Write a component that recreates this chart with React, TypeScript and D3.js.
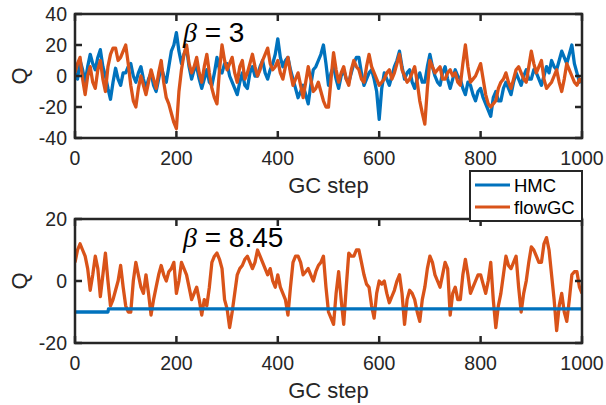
import React from 'react';
import * as d3 from 'd3';

// GC step of each sample (every 5 steps)
const steps = d3.range(0, 1001, 5);

// beta = 3 panel
const hmcTop = [
  2, -2, 10, 4, -4, 6, 14, 8, 4, 12,
  17, 6, 0, -8, -15, -4, 5, -2, -6, 2,
  2, 6, 8, 0, -4, 2, 6, -2, -8, -2,
  2, -6, -10, -2, 6, 0, -4, 6, 16, 20,
  28, 16, 8, 14, 18, 6, -2, 4, 6, -2,
  -8, -2, 4, -4, -6, 2, 12, 4, 2, 8,
  8, 0, -4, -8, -12, -4, 2, -6, -8, 2,
  6, 0, 0, 6, 10, 2, -2, 4, 8, 14,
  24, 12, 6, 10, 12, 4, -2, -8, -14, -10,
  -6, -12, -18, -6, 4, 6, 10, 14, 20, 8,
  -6, 2, 6, -2, -8, 0, 4, -2, -4, 2,
  8, 12, 12, 2, -6, -2, 2, 4, -2, -10,
  -28, -8, 2, -2, -6, 0, 6, 10, 16, 6,
  -2, 2, 4, -4, -8, -2, 2, -4, -4, 6,
  14, 6, 0, -4, -6, 2, 6, -2, -8, -2,
  4, 0, -2, -8, -12, -4, -6, -12, -16, -10,
  -8, -14, -18, -22, -26, -14, -10, -16, -16, -8,
  -4, -8, -12, -4, 2, -2, -6, 0, 4, -2,
  -2, 4, 2, -2, -6, 0, 6, 2, 10, 6,
  4, 10, 16, 12, 8, 14, 20, 8, 2, -4,
  -2,
];
const flowTop = [
  2, 8, 12, -2, -12, 0, 6, -4, -8, 4,
  10, -2, -10, 6, 14, 18, 18, 10, 12, 16,
  20, 8, -6, -16, -20, -8, 0, -6, -12, -4,
  4, -2, -8, 2, 10, -4, -14, -18, -24, -30,
  -34, -10, 4, 14, 20, 8, 2, 6, 12, 2,
  -4, 6, 14, 2, -8, -14, -18, 4, 20, 10,
  4, 8, 12, 2, -4, 6, 10, -2, 2, 8,
  14, 6, 0, 4, 10, 14, 18, 8, 4, 6,
  10, 2, -2, 6, 12, 2, -6, -2, 2, -6,
  -14, -4, 6, -2, -10, -8, -4, -10, -16, -20,
  -20, -2, 15, 4, -4, 2, 6, -2, -6, 4,
  10, 6, 4, -2, -4, 6, 14, 6, 2, -2,
  -6, -4, -2, 2, 4, -2, 2, 8, 14, 4,
  0, -4, -2, 2, 6, -4, -16, -24, -31, -8,
  10, 6, 2, 4, 6, -2, -2, 2, 4, 0,
  2, -4, -6, 8, 20, 6, -4, -2, 0, 4,
  8, -2, -12, -18, -20, -18, -16, -8, -4, -2,
  2, -4, -8, -2, 4, 6, 2, -2, -4, 6,
  16, 8, 2, 6, 10, -2, -8, -6, -4, 0,
  4, -4, -10, -2, 8, 4, 0, -4, -6, -2,
  -4,
];

// beta = 8.45 panel
const hmcBotSteps = [0, 65, 66, 1000];
const hmcBot = [-10, -10, -9, -9];
const flowBot = [
  6, 10, 12, 10, 8, 4, -3, 2, 8, 4,
  -5, 2, 9, 0, -8, -6, -3, 0, 5, -2,
  -8, -10, -10, 0, 6, 2, -2, -4, 2, -4,
  -11, -6, -2, 2, 5, 2, 0, 3, 4, 6,
  -4, 0, 6, 4, 2, -2, -6, -4, -2, -6,
  -11, -6, -8, -2, 6, 8, 9, 7, 4, -6,
  -9, -15, -10, -4, 2, 4, 5, 7, 8, 6,
  4, 6, 10, 8, 6, 4, 2, 4, 0, -2,
  2, -2, -4, -6, -11, -2, 6, 8, 8, 6,
  2, 3, 4, 2, 0, 3, 5, 6, 8, -2,
  -10, -12, -14, -4, 3, -6, -14, -2, 9, 8,
  8, 10, 10, 6, 2, -1, -2, -8, -12, -4,
  0, -1, 0, -4, -7, -5, -3, 0, 2, -4,
  -14, -6, -3, -4, -6, -10, -13, -6, -2, 4,
  8, 6, 2, 0, -2, 2, 6, 4, -11, -4,
  -2, -6, -6, 2, 7, 2, -4, -2, 0, 2,
  2, -1, -4, 0, 6, -6, -15, -8, -4, 2,
  8, 5, 4, 6, 8, -2, -10, -4, 0, 6,
  11, 10, 8, 6, 6, 12, 14, 10, 2, -6,
  -16, -8, -4, -10, -13, -6, 2, 3, 3, -2,
  -4,
];

const xTicks = [0, 200, 400, 600, 800, 1000];
const yTicksTop = [-40, -20, 0, 20, 40];
const yTicksBot = [-20, 0, 20];

const BLUE = '#0072BD';
const ORANGE = '#D95319';
const AX = '#262626';
const FONT = '"Liberation Sans", Arial, sans-serif';

type Series = { xs: number[]; ys: number[]; color: string };

const Panel = ({ id, top, bottom, yDomain, yTicks, series, title }: {
  id: string; top: number; bottom: number; yDomain: [number, number];
  yTicks: number[]; series: Series[]; title: string;
}) => {
  const x = d3.scaleLinear().domain([0, 1000]).range([75, 582]);
  const y = d3.scaleLinear().domain(yDomain).range([bottom, top]);
  const line = d3.line<[number, number]>().x(d => x(d[0])).y(d => y(d[1]));
  const [x0, x1] = x.range();
  const tick = 7;
  return (
    <g>
      <clipPath id={id}>
        <rect x={x0} y={top} width={x1 - x0} height={bottom - top} />
      </clipPath>
      <g clipPath={`url(#${id})`}>
        {series.map((s, i) => (
          <path key={i} d={line(s.xs.map((v, j) => [v, s.ys[j]] as [number, number])) || ''}
            fill="none" stroke={s.color} strokeWidth={3.3} strokeLinejoin="round" />
        ))}
      </g>
      <text x={x(213)} y={top + 28} fontFamily={FONT} fontSize={28} fill="#000">
        <tspan fontFamily='"Liberation Serif", serif' fontStyle="italic">β</tspan>
        {' = ' + title}
      </text>
      {xTicks.map(t => (
        <g key={'x' + t}>
          <line x1={x(t)} x2={x(t)} y1={bottom} y2={bottom - tick} stroke={AX} strokeWidth={2.5} />
          <line x1={x(t)} x2={x(t)} y1={top} y2={top + tick} stroke={AX} strokeWidth={2.5} />
          <text x={x(t)} y={bottom + 27} textAnchor="middle" fontFamily={FONT} fontSize={19.5} fill={AX}>{t}</text>
        </g>
      ))}
      {yTicks.map(t => (
        <g key={'y' + t}>
          <line x1={x0} x2={x0 + tick} y1={y(t)} y2={y(t)} stroke={AX} strokeWidth={2.5} />
          <line x1={x1} x2={x1 - tick} y1={y(t)} y2={y(t)} stroke={AX} strokeWidth={2.5} />
          <text x={x0 - 8} y={y(t)} dy="0.36em" textAnchor="end" fontFamily={FONT} fontSize={19.5} fill={AX}>{t}</text>
        </g>
      ))}
      <rect x={x0} y={top} width={x1 - x0} height={bottom - top} fill="none" stroke={AX} strokeWidth={2.5} />
      <text x={(x0 + x1) / 2} y={bottom + 55} textAnchor="middle" fontFamily={FONT} fontSize={22} fill={AX}>GC step</text>
      <text transform={`translate(${x0 - 48},${(top + bottom) / 2}) rotate(-90)`} textAnchor="middle"
        fontFamily={FONT} fontSize={22} fill={AX}>Q</text>
    </g>
  );
};

export default function App() {
  return (
    <svg width={606} height={405} style={{ position: 'absolute', left: 0, top: 0, background: '#fff' }}>
      <rect width={606} height={405} fill="#fff" />
      <Panel id="clipTop" top={14} bottom={138} yDomain={[-40, 40]} yTicks={yTicksTop} title="3"
        series={[
          { xs: steps, ys: hmcTop, color: BLUE },
          { xs: steps, ys: flowTop, color: ORANGE },
        ]} />
      <Panel id="clipBot" top={219} bottom={343} yDomain={[-20, 20]} yTicks={yTicksBot} title="8.45"
        series={[
          { xs: steps, ys: flowBot, color: ORANGE },
          { xs: hmcBotSteps, ys: hmcBot, color: BLUE },
        ]} />
      <g>
        <rect x={470} y={171} width={112} height={50} fill="#fff" stroke={AX} strokeWidth={2} />
        <line x1={475} x2={510} y1={185} y2={185} stroke={BLUE} strokeWidth={3} />
        <text x={514} y={185} dy="0.36em" fontFamily={FONT} fontSize={18.5} fill="#000">HMC</text>
        <line x1={475} x2={510} y1={207} y2={207} stroke={ORANGE} strokeWidth={3} />
        <text x={514} y={207} dy="0.36em" fontFamily={FONT} fontSize={18.5} fill="#000">flowGC</text>
      </g>
    </svg>
  );
}
